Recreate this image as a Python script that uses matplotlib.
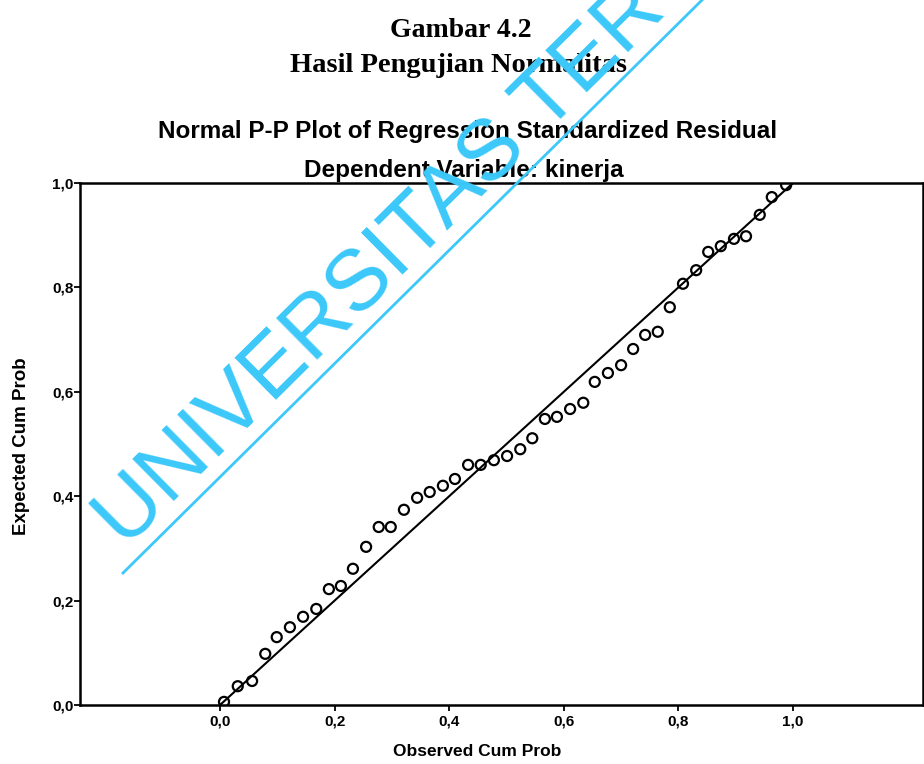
import matplotlib
matplotlib.use("Agg")
import matplotlib.pyplot as plt
from matplotlib.lines import Line2D
import numpy as np

# observed / expected cumulative probabilities
observed = [0.007, 0.031, 0.056, 0.079, 0.099, 0.122, 0.145, 0.168, 0.190, 0.211,
            0.232, 0.255, 0.277, 0.298, 0.321, 0.344, 0.366, 0.389, 0.410, 0.433,
            0.455, 0.478, 0.501, 0.524, 0.545, 0.567, 0.588, 0.611, 0.634, 0.654,
            0.677, 0.700, 0.721, 0.742, 0.764, 0.785, 0.808, 0.831, 0.852, 0.874,
            0.897, 0.918, 0.942, 0.963, 0.988]
expected = [0.006, 0.036, 0.046, 0.098, 0.130, 0.149, 0.169, 0.184, 0.222, 0.228,
            0.261, 0.303, 0.341, 0.341, 0.374, 0.397, 0.408, 0.420, 0.433, 0.460,
            0.460, 0.469, 0.477, 0.490, 0.511, 0.548, 0.552, 0.567, 0.579, 0.619,
            0.636, 0.651, 0.682, 0.709, 0.715, 0.762, 0.807, 0.833, 0.868, 0.879,
            0.893, 0.898, 0.939, 0.973, 0.996]
ref_line = [0.0, 1.0]
tick_vals = [0.0, 0.2, 0.4, 0.6, 0.8, 1.0]
tick_labels = ["0,0", "0,2", "0,4", "0,6", "0,8", "1,0"]

W, H = 924, 764
fig = plt.figure(figsize=(W / 100, H / 100), dpi=100)
fig.patch.set_facecolor("white")

sans = ["Liberation Sans", "DejaVu Sans"]
serif = ["Liberation Serif", "DejaVu Serif"]

# axes box in pixels: left 80, right 923, top 183, bottom 705
ax = fig.add_axes([80 / W, (H - 705) / H, (923 - 80) / W, (705 - 183) / H])
ax.plot(ref_line, ref_line, color="black", lw=1.5, zorder=2)
ax.scatter(observed, expected, s=52, facecolors="none", edgecolors="black",
           linewidths=1.6, zorder=3)

ax.set_xlim(-(220 - 80) / 573, (923 - 220) / 573)
ax.set_ylim(0, 1)
ax.set_xticks(tick_vals)
ax.set_xticklabels(tick_labels)
ax.set_yticks(tick_vals)
ax.set_yticklabels(tick_labels)
for sp in ax.spines.values():
    sp.set_linewidth(1.8)
ax.tick_params(direction="out", length=4, width=1.3, pad=3)
ax.tick_params(axis="y", pad=0.5)
for lab in ax.get_xticklabels() + ax.get_yticklabels():
    lab.set_fontfamily(sans)
    lab.set_fontweight("bold")
    lab.set_fontsize(11)

fig.text(477 / W, 1 - 752 / H, "Observed Cum Prob", ha="center", va="center",
         family=sans, weight="bold", fontsize=12.5)
fig.text(22 / W, 1 - 446 / H, "Expected Cum Prob", ha="center", va="center",
         rotation=90, family=sans, weight="bold", fontsize=13.5)

# titles
fig.text(461 / W, 1 - 37 / H, "Gambar 4.2", ha="center", va="baseline",
         family=serif, weight="bold", fontsize=20)
fig.text(458 / W, 1 - 72 / H, "Hasil Pengujian Normalitas", ha="center", va="baseline",
         family=serif, weight="bold", fontsize=20.5)
fig.text(468 / W, 1 - 138 / H, "Normal P-P Plot of Regression Standardized Residual",
         ha="center", va="baseline", family=sans, weight="bold", fontsize=17.5)
fig.text(464 / W, 1 - 177 / H, "Dependent Variable: kinerja", ha="center",
         va="baseline", family=sans, weight="bold", fontsize=17.5)

# watermark
wm_color = "#3CC8FA"
ang = 44.7
x0, y0 = 123, 573
x1 = x0 + 620
y1 = y0 - 620 * np.tan(np.radians(ang))
fig.add_artist(Line2D([x0 / W, x1 / W], [1 - y0 / H, 1 - y1 / H], color=wm_color,
                      lw=2.0, transform=fig.transFigure, zorder=10))
dx, dy = np.cos(np.radians(ang)), np.sin(np.radians(ang))
ux, uy = -dy, dx
bx = x0 + 18 * dx + 15 * ux
by = y0 - 18 * dy - 15 * uy
fig.text(bx / W, 1 - by / H, "UNIVERSITAS TER", rotation=ang,
         rotation_mode="anchor", ha="left", va="baseline", color=wm_color,
         family=sans, fontsize=62, zorder=10)

fig.savefig("out.png", dpi=100, facecolor="white")
